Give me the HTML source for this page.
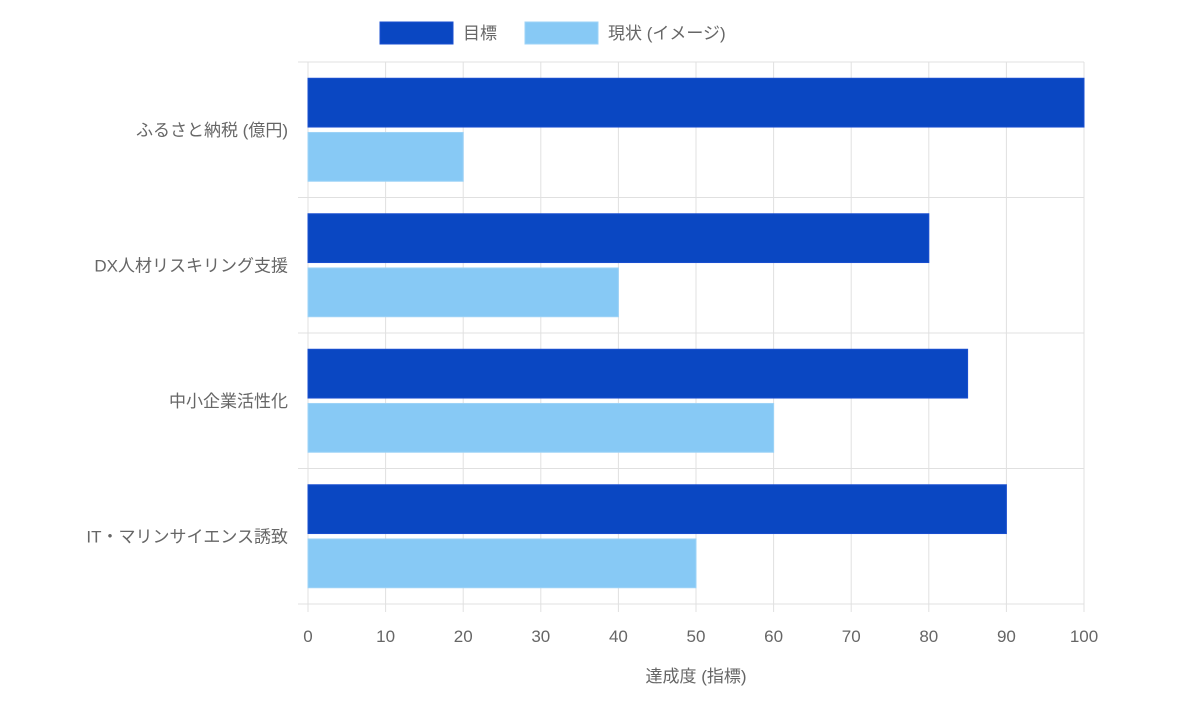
<!DOCTYPE html>
<html><head><meta charset="utf-8"><style>
body{margin:0;background:#fff;}
svg text{font-family:"Liberation Sans","Noto Sans CJK JP",sans-serif;fill:#666;}
</style></head><body>
<svg id="chart" width="1184" height="710" xmlns="http://www.w3.org/2000/svg">
<g id="legend">
<g><rect x="380" y="22" width="73" height="22" fill="#0a47c2" stroke="#1a4fd0"/><text x="463" y="39" font-size="17">目標</text></g>
<g><rect x="525" y="22" width="73" height="22" fill="#87c9f5" stroke="#9dd3f7"/><text x="608" y="39" font-size="17">現状 (イメージ)</text></g>
</g>
<g id="grid"></g>
<g id="bars"></g>
<g id="labels"></g>
<text x="696" y="682" font-size="17" text-anchor="middle">達成度 (指標)</text>
</svg>
<script>
const categories=["ふるさと納税 (億円)","DX人材リスキリング支援","中小企業活性化","IT・マリンサイエンス誘致"];
const targetValues=[100,80,85,90];
const currentValues=[20,40,60,50];
const xTicks=[0,10,20,30,40,50,60,70,80,90,100];
const NS="http://www.w3.org/2000/svg";
const L=308,R=1084,T=62,B=604,xMax=100;
const xs=v=>L+(R-L)*v/xMax;
const band=(B-T)/categories.length;
function mk(tag,attrs,parent,txt){const e=document.createElementNS(NS,tag);for(const k in attrs)e.setAttribute(k,attrs[k]);if(txt!==undefined)e.textContent=txt;parent.appendChild(e);return e;}
const grid=document.getElementById('grid'),bars=document.getElementById('bars'),labels=document.getElementById('labels');
xTicks.forEach(t=>{const x=xs(t);
 const l=mk('line',{x1:x,x2:x,y1:T,y2:B+8,stroke:'#e0e0e0','stroke-width':1},grid);
 
 
 const tx=mk('text',{x:x,y:642,'font-size':17,'text-anchor':'middle'},labels,String(t));
 
 
});
for(let i=0;i<=categories.length;i++){const y=T+band*i;
 const l=mk('line',{x1:L-10,x2:R,y1:y,y2:y,stroke:'#e0e0e0','stroke-width':1},grid);
 
 
}
const cp=band*0.8,bw=cp/2*0.9;
categories.forEach((c,i)=>{
 const cy=T+band*(i+0.5);
 const tx=mk('text',{x:288,y:cy+6,'font-size':17,'text-anchor':'end'},labels,c);
 
 
 const y1=cy-cp/2+(cp/2-bw)/2, y2=cy+(cp/2-bw)/2;
 const b1=mk('rect',{x:L,y:y1,width:xs(targetValues[i])-L,height:bw,fill:'#0a47c2',stroke:'#1a4fd0','stroke-width':1},bars);
 
 
 const b2=mk('rect',{x:L,y:y2,width:xs(currentValues[i])-L,height:bw,fill:'#87c9f5',stroke:'#9dd3f7','stroke-width':1},bars);
 
 
});
</script>
</body></html>
